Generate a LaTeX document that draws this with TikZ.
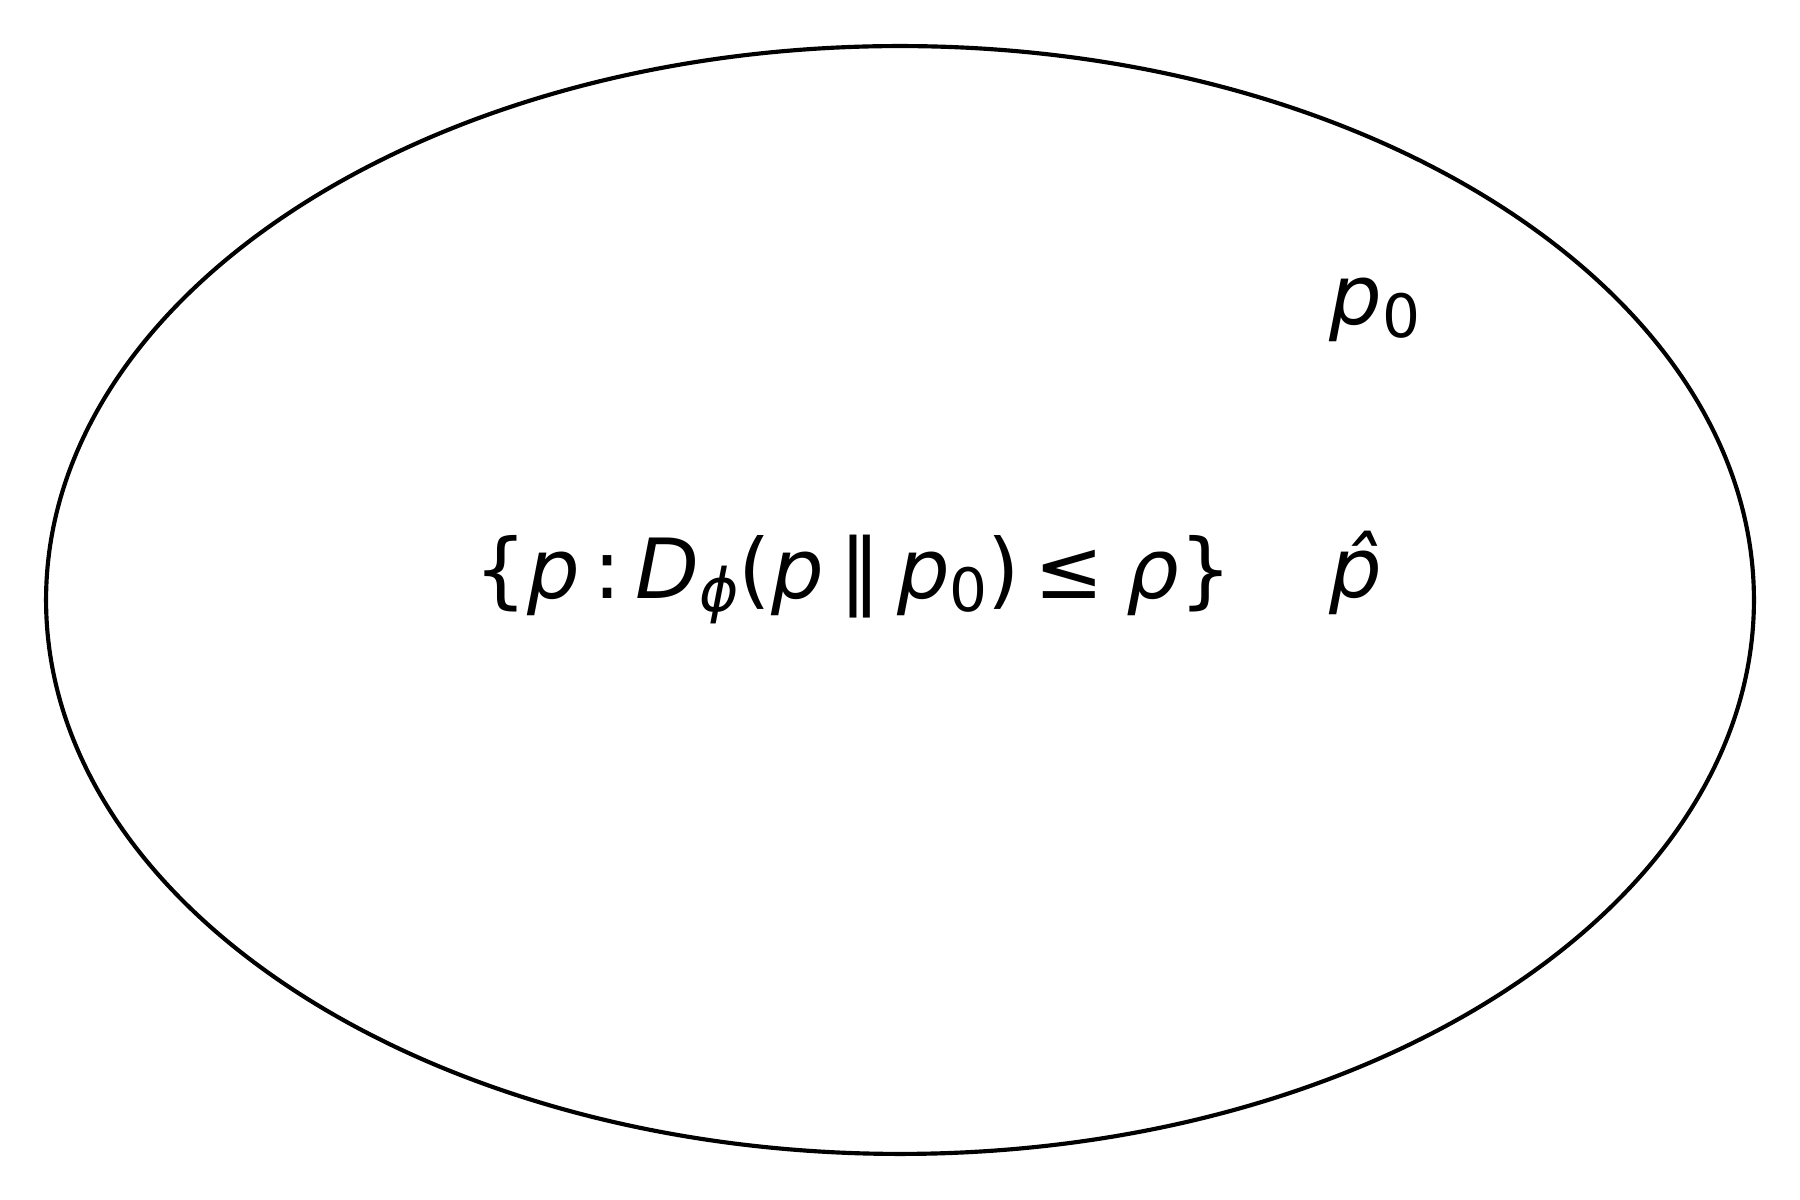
\documentclass[tikz,border=0pt]{standalone}
\usepackage{fontspec}
\setmainfont{DejaVu Sans}
\usetikzlibrary{positioning}
\newcommand{\lowsub}[1]{\raisebox{-0.15em}{\fontsize{14.4}{14.4}\selectfont #1}}
\newcommand{\iv}[1]{\textit{#1}}

\begin{document}
\begin{tikzpicture}
	\tikzset {lbl/.style={inner sep=0pt, font=\fontsize{20}{24}\selectfont}, ball/.style={draw=black, line width=1pt} }
	\useasboundingbox (0,0) rectangle (15.24,10.16);
	\draw[ball] (7.62,5.08) ellipse [x radius=7.23, y radius=4.69];
	\node[lbl, anchor=base west] (set) at (4.01,5.09) {\{\iv{p}\,:\,\iv{D}\lowsub{\iv{ϕ}}(\iv{p}\hspace{0.19em}‖\hspace{0.19em}\iv{p}\lowsub{0})\,≤\;\iv{ρ}\}};
	\node[lbl, anchor=base west] (phat) at (11.25,5.10) {\iv{\^{p}}};
	\node[lbl, anchor=base west] (pzero) at (11.25,7.41) {\iv{p}\lowsub{0}};
\end{tikzpicture}
\end{document}
